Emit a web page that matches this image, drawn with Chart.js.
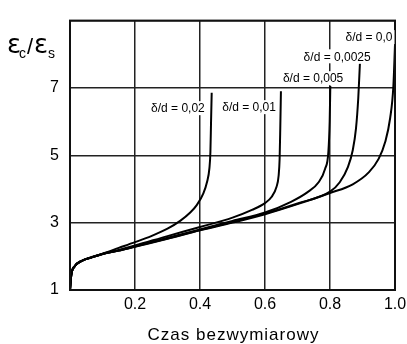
<!DOCTYPE html>
<html lang="pl">
<head>
<meta charset="UTF-8">
<title>Czas bezwymiarowy</title>
<script src="https://cdn.jsdelivr.net/npm/chart.js"></script>
<style>
  html, body { margin: 0; padding: 0; background: #fff; }
</style>
</head>
<body>
<canvas id="myChart" width="407" height="344"></canvas>
<script>
// krzywe dla kolejnych wartosci delta/d: czas bezwymiarowy (x) i eps_c/eps_s (y)
var czas_002 = [0, 0.004, 0.015, 0.035, 0.067, 0.1, 0.15, 0.2, 0.25, 0.3, 0.34, 0.37, 0.39, 0.41, 0.422, 0.429, 0.432, 0.434, 0.436];
var eps_002  = [1, 1.45, 1.71, 1.86, 1.98, 2.08, 2.25, 2.42, 2.6, 2.82, 3.06, 3.3, 3.52, 3.86, 4.22, 4.62, 5.1, 6.0, 6.86];

var czas_001 = [0, 0.004, 0.015, 0.035, 0.067, 0.1, 0.15, 0.2, 0.3, 0.4, 0.5, 0.56, 0.6, 0.62, 0.635, 0.642, 0.645, 0.647, 0.649];
var eps_001  = [1, 1.45, 1.71, 1.86, 1.97, 2.07, 2.19, 2.32, 2.6, 2.87, 3.15, 3.38, 3.58, 3.76, 4.05, 4.4, 4.9, 5.8, 6.9];

var czas_0005 = [0, 0.004, 0.015, 0.035, 0.067, 0.1, 0.15, 0.2, 0.3, 0.4, 0.5, 0.6, 0.68, 0.73, 0.765, 0.785, 0.795, 0.799, 0.801];
var eps_0005  = [1, 1.45, 1.71, 1.86, 1.97, 2.07, 2.17, 2.3, 2.55, 2.8, 3.05, 3.3, 3.62, 3.9, 4.2, 4.6, 5.1, 6.0, 7.06];

var czas_00025 = [0, 0.004, 0.015, 0.035, 0.067, 0.1, 0.15, 0.2, 0.3, 0.4, 0.5, 0.6, 0.7, 0.8, 0.83, 0.855, 0.87, 0.88, 0.887, 0.892];
var eps_00025  = [1, 1.45, 1.71, 1.86, 1.97, 2.07, 2.17, 2.29, 2.53, 2.78, 3.02, 3.27, 3.57, 3.92, 4.2, 4.65, 5.15, 5.8, 6.7, 7.72];

var czas_0 = [0, 0.004, 0.015, 0.035, 0.067, 0.1, 0.15, 0.2, 0.3, 0.4, 0.5, 0.6, 0.7, 0.8, 0.87, 0.92, 0.95, 0.97, 0.985, 0.995, 1.0];
var eps_0  = [1, 1.45, 1.71, 1.86, 1.97, 2.07, 2.17, 2.28, 2.52, 2.77, 3.0, 3.25, 3.55, 3.88, 4.14, 4.5, 4.9, 5.4, 6.1, 7.05, 8.28];

// opisy krzywych i miejsce opisu (w jednostkach osi)
var opisy   = ['δ/d = 0,02', 'δ/d = 0,01', 'δ/d = 0,005', 'δ/d = 0,0025', 'δ/d = 0,0'];
var opisy_x = [0.332, 0.551, 0.748, 0.822, 0.92];
var opisy_y = [6.4, 6.43, 7.29, 7.94, 8.51];

var ticksX = [0.2, 0.4, 0.6, 0.8, 1.0];
var ticksY = [1, 3, 5, 7];

function punkty(xs, ys) {
    var p = [];
    for (var i = 0; i < xs.length; i++) p.push({ x: xs[i], y: ys[i] });
    return p;
}

function krzywa(xs, ys) {
    return {
        data: punkty(xs, ys),
        borderColor: '#000',
        borderWidth: 2,
        pointRadius: 0,
        fill: false,
        cubicInterpolationMode: 'monotone'
    };
}

// ramka, opisy krzywych na bialym tle + tytuly osi
var napisy = {
    id: 'napisy',
    afterDraw: function (chart) {
        var ctx = chart.ctx;
        var a = chart.chartArea;
        var sx = chart.scales.x, sy = chart.scales.y;
        ctx.save();
        ctx.strokeStyle = '#111';
        ctx.lineWidth = 2;
        ctx.strokeRect(a.left, a.top, a.right - a.left, a.bottom - a.top);

        ctx.font = '12px "Liberation Sans"';
        ctx.textAlign = 'center';
        ctx.textBaseline = 'middle';
        for (var i = 0; i < opisy.length; i++) {
            var px = sx.getPixelForValue(opisy_x[i]);
            var py = sy.getPixelForValue(opisy_y[i]);
            var w = ctx.measureText(opisy[i]).width;
            ctx.fillStyle = '#fff';
            ctx.fillRect(px - w / 2 - 2, py - 7, w + 4, 14);
            ctx.fillStyle = '#000';
            ctx.fillText(opisy[i], px, py + 1);
        }

        // os y: eps_c / eps_s
        ctx.textAlign = 'left';
        ctx.textBaseline = 'alphabetic';
        ctx.fillStyle = '#000';
        ctx.font = '26px "DejaVu Sans"';
        ctx.fillText('ε', 7, 53);
        ctx.fillText('ε', 34, 53);
        ctx.font = '22px "Liberation Sans"';
        ctx.fillText('/', 27, 54);
        ctx.font = '14px "Liberation Sans"';
        ctx.fillText('c', 19, 58);
        ctx.fillText('s', 48, 58);

        // os x
        ctx.font = '17px "Liberation Sans"';
        ctx.letterSpacing = '1px';
        ctx.textAlign = 'center';
        ctx.fillText('Czas bezwymiarowy', (a.left + a.right) / 2 + 1, 340);
        ctx.restore();
    }
};

new Chart(document.getElementById('myChart'), {
    type: 'line',
    data: {
        datasets: [
            krzywa(czas_002, eps_002),
            krzywa(czas_001, eps_001),
            krzywa(czas_0005, eps_0005),
            krzywa(czas_00025, eps_00025),
            krzywa(czas_0, eps_0)
        ]
    },
    options: {
        responsive: false,
        animation: false,
        devicePixelRatio: 1,
        layout: { padding: { top: 11, right: 12, left: 0, bottom: 0 } },
        plugins: { legend: { display: false }, tooltip: { enabled: false } },
        scales: {
            x: {
                type: 'linear',
                min: 0,
                max: 1,
                afterBuildTicks: function (s) {
                    s.ticks = [{ value: 0 }].concat(ticksX.map(function (v) { return { value: v }; }));
                },
                ticks: {
                    callback: function (v) { return v === 0 ? '' : v.toFixed(1); },
                    font: { family: 'Liberation Sans', size: 16 },
                    color: '#000',
                    padding: 5,
                    maxRotation: 0,
                    autoSkip: false
                },
                grid: { color: '#222', lineWidth: 1.5, drawTicks: false },
                border: { color: '#111', width: 2 },
                afterFit: function (s) {
                    s.height = 54;
                    s.paddingLeft = 0;
                    s.paddingRight = 0;
                }
            },
            y: {
                min: 1,
                max: 9,
                afterBuildTicks: function (s) {
                    s.ticks = ticksY.concat([9]).map(function (v) { return { value: v }; });
                },
                ticks: {
                    callback: function (v) { return v === 9 ? '' : v; },
                    font: { family: 'Liberation Sans', size: 16 },
                    color: '#000',
                    padding: 11,
                    autoSkip: false
                },
                grid: { color: '#222', lineWidth: 1.5, drawTicks: false },
                border: { color: '#111', width: 2 },
                afterFit: function (s) {
                    s.width = 70;
                }
            }
        }
    },
    plugins: [napisy]
});
</script>
</body>
</html>
